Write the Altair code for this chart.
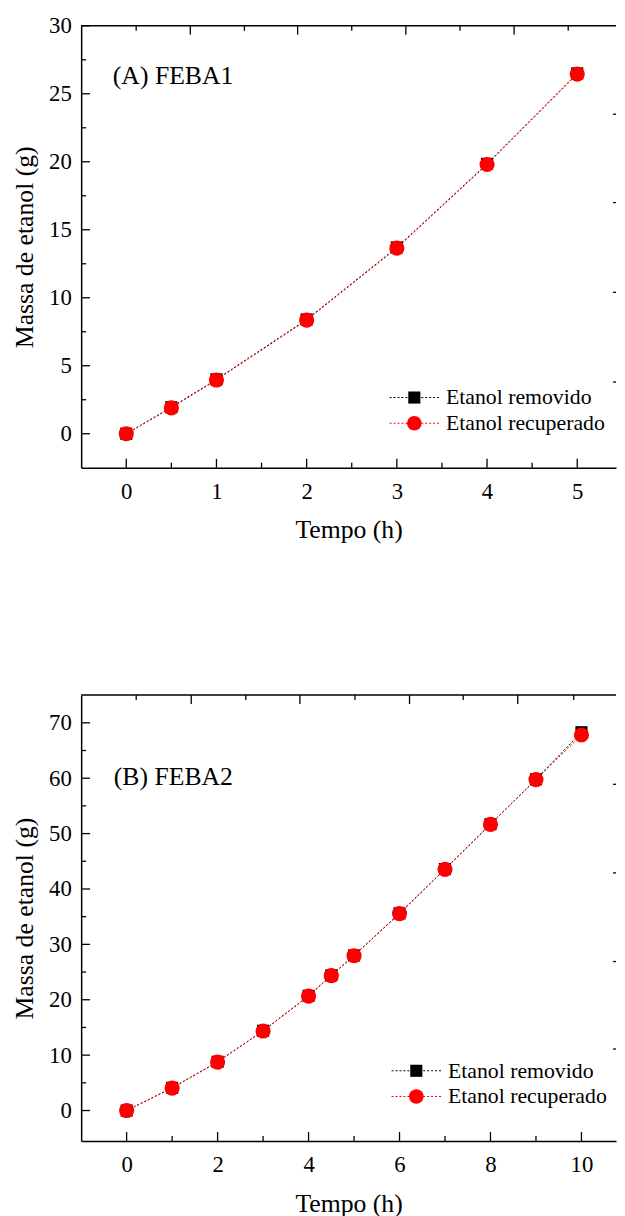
import altair as alt
import pandas as pd

FONT = "Liberation Serif"

# ---------------- Panel A data ----------------
a_time = [0, 0.5, 1, 2, 3, 4, 5]
a_removido = [0, 1.95, 4.0, 8.4, 13.7, 19.85, 26.5]
a_recuperado = [0, 1.9, 3.95, 8.35, 13.65, 19.8, 26.45]
a_x_major = [0, 1, 2, 3, 4, 5]
a_x_minor = [0.5, 1.5, 2.5, 3.5, 4.5]
a_y_major = [0, 5, 10, 15, 20, 25, 30]
a_y_minor = [2.5, 7.5, 12.5, 17.5, 22.5, 27.5]
a_top_major = [0.71, 1.9, 3.1, 4.3]
a_top_minor = [0.11, 1.31, 2.5, 3.7, 4.9]
a_right = [23.5, 17.0, 10.4, 3.8]

# ---------------- Panel B data ----------------
b_time = [0, 1, 2, 3, 4, 4.5, 5, 6, 7, 8, 9, 10]
b_removido = [0, 4.1, 8.8, 14.4, 20.7, 24.4, 28.0, 35.6, 43.6, 51.7, 59.8, 68.3]
b_recuperado = [0, 4.05, 8.75, 14.35, 20.65, 24.35, 27.95, 35.55, 43.55, 51.65, 59.75, 67.8]
b_x_major = [0, 2, 4, 6, 8, 10]
b_x_minor = [1, 3, 5, 7, 9]
b_y_major = [0, 10, 20, 30, 40, 50, 60, 70]
b_y_minor = [5, 15, 25, 35, 45, 55, 65]
b_top_major = [1.42, 3.81, 6.22, 8.6]
b_top_minor = [0.21, 2.62, 5.02, 7.4, 9.83]
b_right = [58.9, 42.9, 26.9, 11.1]

series_names = ["Etanol removido", "Etanol recuperado"]
x_title = "Tempo (h)"
y_title = "Massa de etanol (g)"

W = 541


def panel(time, rem, rec, xdom, ydom, H, xmaj, xmin, ymaj, ymin, tmaj, tmin, rvals,
          label, lab_xy, leg_xy):
    xs = alt.Scale(domain=xdom, nice=False, zero=False)
    ys = alt.Scale(domain=ydom, nice=False, zero=False)
    xax = alt.Axis(values=xmaj, ticks=False, tickSize=0, domain=True, domainColor="black",
                   domainWidth=1.5, labelPadding=13, title=x_title, titlePadding=14,
                   grid=False, labelFlush=False)
    yax = alt.Axis(values=ymaj, ticks=False, tickSize=0, domain=True, domainColor="black",
                   domainWidth=1.5, labelPadding=10, title=y_title, titlePadding=11,
                   grid=False, labelFlush=False)

    df_rem = pd.DataFrame({"t": time, "m": rem})
    df_rec = pd.DataFrame({"t": time, "m": rec})
    X = alt.X("t:Q", scale=xs, axis=xax)
    Y = alt.Y("m:Q", scale=ys, axis=yax)

    layers = []
    # top frame line
    layers.append(alt.Chart(pd.DataFrame({"d": [0]})).mark_rule(color="black", strokeWidth=1.5)
                  .encode(x=alt.value(0), x2=alt.value(W), y=alt.value(0)))
    layers.append(alt.Chart(df_rem).mark_line(color="black", strokeWidth=1, strokeDash=[2, 2])
                  .encode(x=X, y=Y))
    layers.append(alt.Chart(df_rec).mark_line(color="red", strokeWidth=1, strokeDash=[2, 2])
                  .encode(x=X, y=Y))
    layers.append(alt.Chart(df_rem).mark_point(shape="square", filled=True, color="black",
                                              size=150, opacity=1).encode(x=X, y=Y))
    layers.append(alt.Chart(df_rec).mark_point(shape="circle", filled=True, color="red",
                                              size=235, opacity=1).encode(x=X, y=Y))

    def xt(vals, y0, y1):
        return alt.Chart(pd.DataFrame({"v": vals})).mark_rule(color="black", strokeWidth=1.3).encode(
            x=alt.X("v:Q", scale=xs, axis=xax), y=alt.value(y0), y2=alt.value(y1))

    def yt(vals, x0, x1):
        return alt.Chart(pd.DataFrame({"v": vals})).mark_rule(color="black", strokeWidth=1.3).encode(
            y=alt.Y("v:Q", scale=ys, axis=yax), x=alt.value(x0), x2=alt.value(x1))

    layers += [
        xt(xmaj, H, H - 9), xt(xmin, H, H - 5),
        xt(tmaj, 0, 9), xt(tmin, 0, 5),
        yt(ymaj, 0, 9), yt(ymin, 0, 5),
        yt(rvals, W, W - 3),
    ]

    # panel label
    layers.append(alt.Chart(pd.DataFrame({"s": [label]})).mark_text(
        align="left", baseline="middle", font=FONT, fontSize=26, color="black")
        .encode(text="s:N", x=alt.value(lab_xy[0]), y=alt.value(lab_xy[1])))

    # legend
    lx, ly = leg_xy
    styles = [("black", "square", 150), ("red", "circle", 220)]
    for i, (name, (col, shp, sz)) in enumerate(zip(series_names, styles)):
        yy = ly + i * 26
        d = pd.DataFrame({"s": [name]})
        layers.append(alt.Chart(d).mark_rule(color=col, strokeWidth=1, strokeDash=[2, 2])
                      .encode(x=alt.value(lx), x2=alt.value(lx + 50), y=alt.value(yy)))
        layers.append(alt.Chart(d).mark_point(shape=shp, filled=True, color=col, size=sz, opacity=1)
                      .encode(x=alt.value(lx + 25), y=alt.value(yy)))
        layers.append(alt.Chart(d).mark_text(align="left", baseline="middle", font=FONT,
                                             fontSize=22, color="black")
                      .encode(text="s:N", x=alt.value(lx + 57), y=alt.value(yy)))

    return alt.layer(*layers).properties(width=W, height=H)


pa = panel(a_time, a_removido, a_recuperado, [-0.5, 5.43], [-2.5, 30], 447,
           a_x_major, a_x_minor, a_y_major, a_y_minor, a_top_major, a_top_minor, a_right,
           "(A) FEBA1", (32, 51), (312, 376))
pb = panel(b_time, b_removido, b_recuperado, [-1, 10.76], [-5.5, 75], 451,
           b_x_major, b_x_minor, b_y_major, b_y_minor, b_top_major, b_top_minor, b_right,
           "(B) FEBA2", (33, 83), (314, 380))

chart = alt.vconcat(pa, pb, spacing=153).properties(
    padding={"left": 4, "top": 0, "right": 0, "bottom": 5}
).configure_view(stroke=None).configure_axis(
    labelFont=FONT, titleFont=FONT, labelFontSize=23, titleFontSize=26,
    labelColor="black", titleColor="black", titleFontWeight="normal"
)

chart.save("out.html", embed_options={"renderer": "svg", "actions": False})
